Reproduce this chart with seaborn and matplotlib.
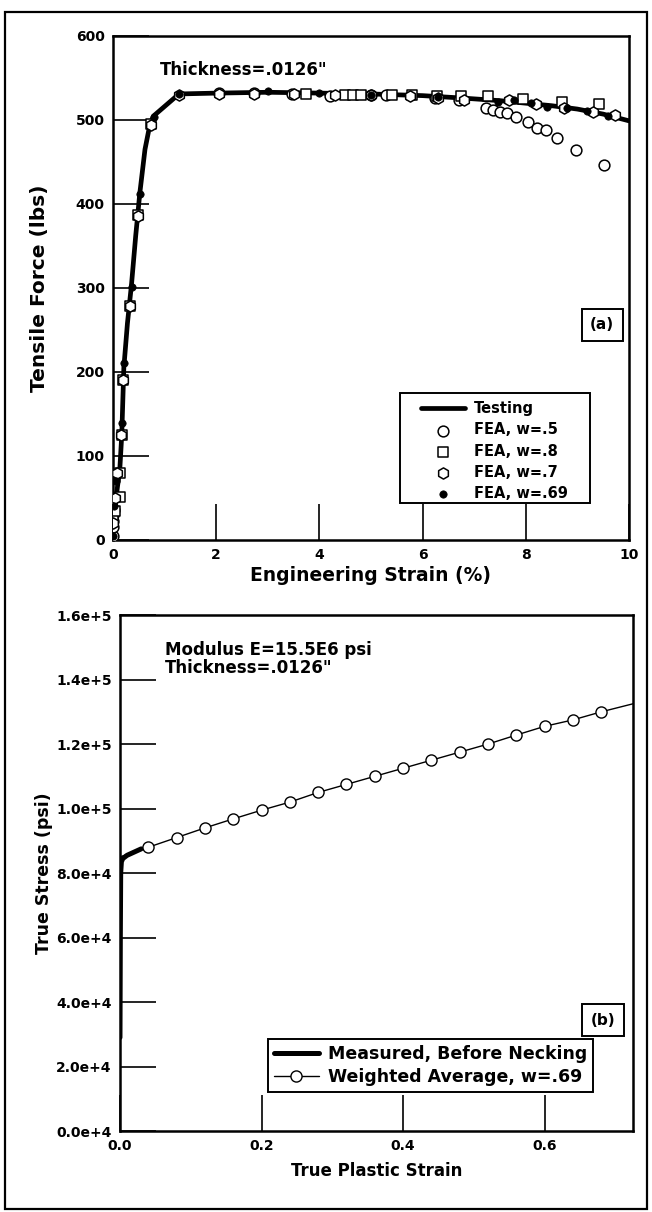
import matplotlib
matplotlib.use('Agg')
import matplotlib.pyplot as plt
import seaborn as sns
from matplotlib.patches import Rectangle

# ---------------- data (a) ----------------
test_strain = [0.0, 0.02, 0.05, 0.09, 0.13, 0.17, 0.21, 0.28, 0.36, 0.44, 0.52, 0.62, 0.72, 0.79,
               1.28, 2.0, 3.0, 4.0, 5.0, 6.0, 6.8, 7.5, 8.0, 8.5, 9.0, 9.5, 10.0]
test_force = [0, 18, 45, 65, 82, 125, 205, 258, 305, 362, 413, 465, 496, 505,
              531, 532, 533, 532, 531, 529, 526, 523, 520, 517, 513, 507, 499]

w50_strain = [0.0, 0.0, 0.0, 0.0, 0.01, 2.05, 2.74, 3.46, 4.2, 5.0, 5.3, 6.25, 6.7, 7.23, 7.36,
              7.5, 7.64, 7.81, 8.05, 8.22, 8.39, 8.6, 8.97, 9.52]
w50_force = [5, 15, 22, 30, 36, 532, 532, 531, 529, 530, 530, 526, 524, 514, 512,
             510, 508, 504, 498, 491, 488, 478, 464, 446]

w80_strain = [0.0, 0.03, 0.13, 0.13, 0.18, 0.2, 0.33, 0.49, 0.73, 3.75, 4.5, 4.65, 4.8, 5.4, 5.8,
              6.27, 6.75, 7.26, 7.95, 8.7, 9.42]
w80_force = [25, 35, 51, 80, 125, 191, 279, 387, 495, 531, 530, 530, 530, 530, 530,
             529, 529, 528, 525, 522, 519]

w70_strain = [0.0, 0.03, 0.08, 0.15, 0.2, 0.33, 0.49, 0.73, 1.28, 2.05, 2.74, 3.5, 4.3, 5.0, 5.75,
              6.3, 6.8, 7.67, 8.2, 8.75, 9.3, 9.73]
w70_force = [20, 50, 80, 125, 190, 278, 386, 494, 530, 531, 531, 531, 530, 530, 528,
             526, 524, 524, 519, 514, 510, 506]

w69_strain = [0.0, 0.02, 0.05, 0.18, 0.21, 0.36, 0.52, 0.79, 1.28, 3.0, 4.0, 5.0, 6.3, 7.47,
              7.77, 8.1, 8.42, 8.8, 9.18, 9.6]
w69_force = [5, 40, 70, 139, 211, 301, 412, 504, 531, 534, 532, 530, 527, 522,
             524, 520, 516, 514, 511, 505]

a_xticks = [0, 2, 4, 6, 8, 10]
a_yticks = [0, 100, 200, 300, 400, 500, 600]

# ---------------- data (b) ----------------
meas_strain = [0.0, 0.0005, 0.001, 0.002, 0.004, 0.01, 0.02, 0.03]
meas_stress = [29000, 60000, 80000, 83500, 84500, 85500, 86500, 87500]

wavg_strain = [0.0, 0.04, 0.08, 0.12, 0.16, 0.20, 0.24, 0.28, 0.32, 0.36, 0.40, 0.44, 0.48,
               0.52, 0.56, 0.60, 0.64, 0.68, 0.725]
wavg_stress = [85000, 88000, 91000, 94000, 96800, 99500, 102000, 105000, 107500, 110000,
               112500, 115000, 117500, 120000, 122800, 125500, 127500, 130000, 132500]

b_xticks = [0.0, 0.2, 0.4, 0.6]
b_xticklabels = ['0.0', '0.2', '0.4', '0.6']
b_yticks = [0, 20000, 40000, 60000, 80000, 100000, 120000, 140000, 160000]
b_yticklabels = ['0.0e+4', '2.0e+4', '4.0e+4', '6.0e+4', '8.0e+4', '1.0e+5', '1.2e+5',
                 '1.4e+5', '1.6e+5']

# ---------------- styling ----------------
sns.set_style('ticks')
plt.rcParams['font.family'] = ['DejaVu Sans']
plt.rcParams['font.weight'] = 'bold'
plt.rcParams['axes.labelweight'] = 'bold'
for k in ('text.color', 'axes.labelcolor', 'xtick.color', 'ytick.color', 'axes.edgecolor'):
    plt.rcParams[k] = 'black'

fig = plt.figure(figsize=(6.52, 12.12), dpi=100)
fig.patch.set_facecolor('white')
ax1 = fig.add_axes([0.1733, 0.5545, 0.7914, 0.4158])
ax2 = fig.add_axes([0.184, 0.0668, 0.787, 0.4257])

mk_kw = dict(color='white', edgecolor='black', linewidth=1.1, zorder=3)

# (a)
sns.lineplot(x=test_strain, y=test_force, ax=ax1, color='black', lw=3.4, sort=False,
             estimator=None, label='Testing', zorder=2)
sns.scatterplot(x=w50_strain, y=w50_force, ax=ax1, marker='o', s=60, label='FEA, w=.5', **mk_kw)
sns.scatterplot(x=w80_strain, y=w80_force, ax=ax1, marker='s', s=55, label='FEA, w=.8', **mk_kw)
sns.scatterplot(x=w70_strain, y=w70_force, ax=ax1, marker='h', s=65, label='FEA, w=.7', **mk_kw)
sns.scatterplot(x=w69_strain, y=w69_force, ax=ax1, marker='o', s=28, color='black',
                edgecolor='black', linewidth=0.5, label='FEA, w=.69', zorder=4)

ax1.set_xlim(0, 10)
ax1.set_ylim(0, 600)
ax1.set_xticks(a_xticks)
ax1.set_yticks(a_yticks)
ax1.set_xlabel('Engineering Strain (%)', fontsize=13.5, fontweight='bold')
ax1.set_ylabel('Tensile Force (lbs)', fontsize=14.5, fontweight='bold')
ax1.xaxis.set_label_coords(0.5, -0.052)
ax1.yaxis.set_label_coords(-0.124, 0.5)
ax1.text(0.091, 0.933, 'Thickness=.0126"', transform=ax1.transAxes, fontsize=12,
         fontweight='bold', va='center', ha='left')
ax1.text(0.948, 0.427, '(a)', transform=ax1.transAxes, fontsize=11, fontweight='bold',
         ha='center', va='center',
         bbox=dict(boxstyle='square,pad=0.55', fc='white', ec='black', lw=1.4))
# legend frame drawn separately so the inner padding can match the reference
ax1.add_patch(Rectangle((0.556, 0.0734), 0.368, 0.2183, transform=ax1.transAxes,
                        fc='white', ec='black', lw=1.4, zorder=6))
leg1 = ax1.legend(loc='upper left', bbox_to_anchor=(0.597, 0.275), borderaxespad=0,
                  frameon=False, fontsize=10.5, borderpad=0,
                  handlelength=3.0, labelspacing=0.42, handletextpad=0.6)
leg1.set_zorder(7)

# (b)
sns.lineplot(x=meas_strain, y=meas_stress, ax=ax2, color='black', lw=3.6, sort=False,
             estimator=None, label='Measured, Before Necking', zorder=3)
sns.lineplot(x=wavg_strain, y=wavg_stress, ax=ax2, color='black', lw=1.0, sort=False,
             estimator=None, marker='o', markersize=8, markerfacecolor='white',
             markeredgecolor='black', markeredgewidth=1.0,
             markevery=list(range(1, 18)), label='Weighted Average, w=.69', zorder=4)
ax2.set_xlim(0, 0.725)
ax2.set_ylim(0, 160000)
ax2.set_xticks(b_xticks)
ax2.set_xticklabels(b_xticklabels)
ax2.set_yticks(b_yticks)
ax2.set_yticklabels(b_yticklabels)
ax2.set_xlabel('True Plastic Strain', fontsize=12, fontweight='bold')
ax2.set_ylabel('True Stress (psi)', fontsize=12.5, fontweight='bold')
ax2.xaxis.set_label_coords(0.5, -0.06)
ax2.yaxis.set_label_coords(-0.131, 0.5)
ax2.text(0.088, 0.95, 'Modulus E=15.5E6 psi\nThickness=.0126"', transform=ax2.transAxes,
         fontsize=12, fontweight='bold', va='top', ha='left', linespacing=1.0)
ax2.text(0.941, 0.215, '(b)', transform=ax2.transAxes, fontsize=11, fontweight='bold',
         ha='center', va='center',
         bbox=dict(boxstyle='square,pad=0.55', fc='white', ec='black', lw=1.4))
leg2 = ax2.legend(loc='lower right', bbox_to_anchor=(0.922, 0.076), borderaxespad=0,
                  frameon=True, fancybox=False, edgecolor='black', fontsize=12.5,
                  handlelength=2.6, labelspacing=0.25, borderpad=0.35, handletextpad=0.5)
leg2.get_frame().set_linewidth(1.4)
leg2.get_frame().set_alpha(1)

for ax in (ax1, ax2):
    for s in ax.spines.values():
        s.set_linewidth(1.8)
        s.set_color('black')
    ax.tick_params(axis='both', direction='in', length=26, width=1.2, pad=6,
                   labelsize=10, colors='black', top=False, right=False)
    for lab in ax.get_xticklabels() + ax.get_yticklabels():
        lab.set_fontweight('bold')

fig.add_artist(Rectangle((5 / 652, 1 - 1209 / 1212), 642 / 652, 1197 / 1212,
                         transform=fig.transFigure, fill=False, ec='black', lw=1.6))

fig.savefig('out.png', dpi=100, facecolor='white')
